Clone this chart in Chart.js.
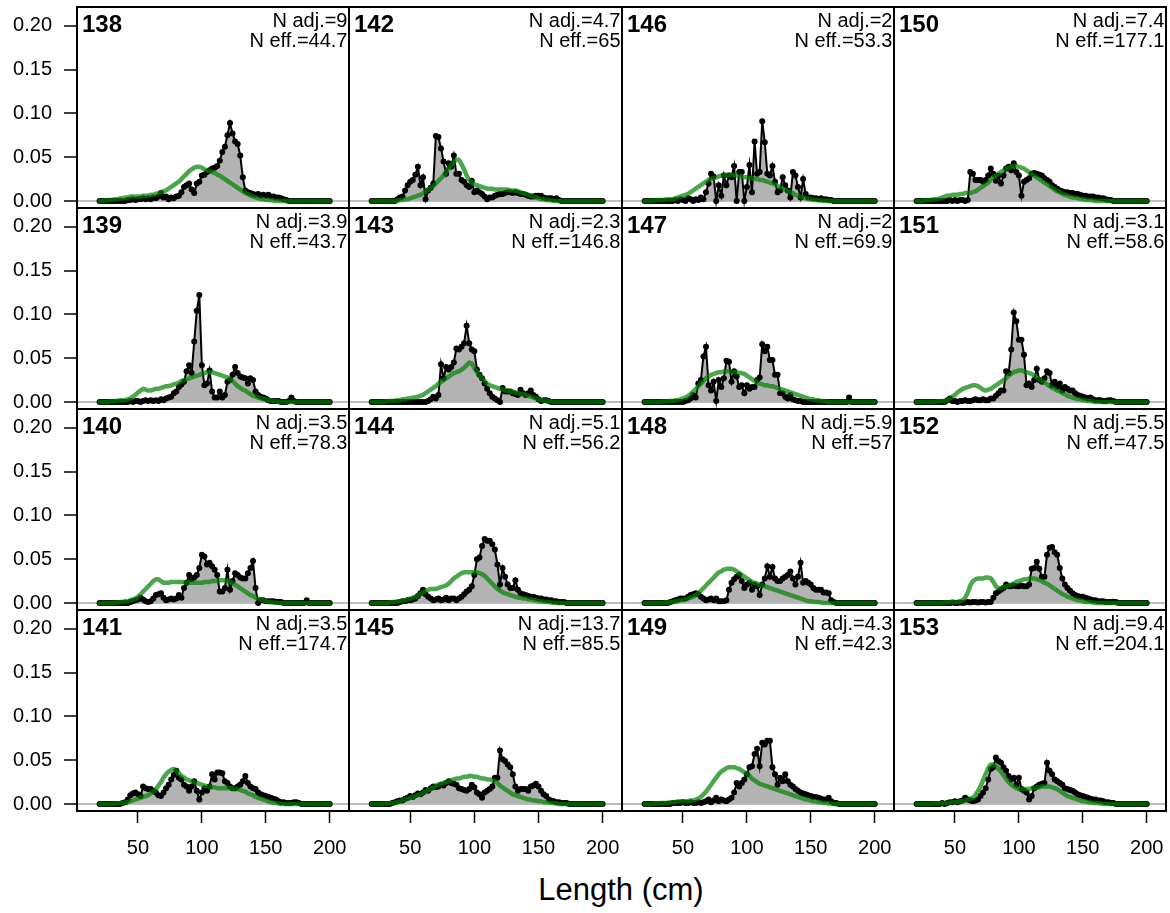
<!DOCTYPE html>
<html><head><meta charset="utf-8">
<script src="https://cdn.jsdelivr.net/npm/chart.js@4.4.1/dist/chart.umd.min.js"></script>
<style>
html,body{margin:0;padding:0;background:#fff;}
#wrap{position:relative;width:1170px;height:913px;overflow:hidden;font-family:"Liberation Sans",Arial,Helvetica,sans-serif;color:#000;}
#wrap canvas{position:absolute;}
.lab{position:absolute;font-weight:bold;font-size:24px;line-height:24px;white-space:nowrap;}
.nt{position:absolute;font-size:20px;line-height:20px;text-align:right;white-space:nowrap;}
#xt{position:absolute;left:421px;width:400px;top:874px;text-align:center;font-size:31px;line-height:31px;}
</style></head>
<body><div id="wrap"><div id="xt">Length (cm)</div></div>
<script>
const LENGTH_BINS = [20,22,24,26,28,30,32,34,36,38,
40,42,44,46,48,50,52,54,56,58,
60,62,64,66,68,70,72,74,76,78,
80,82,84,86,88,90,92,94,96,98,
100,102,104,106,108,110,112,114,116,118,
120,122,124,126,128,130,132,134,136,138,
140,142,144,146,148,150,152,154,156,158,
160,162,164,166,168,170,172,174,176,178,
180,182,184,186,188,190,192,194,196,198,
200];
const X_TICKS = [50,100,150,200];
const Y_TICKS = [0,0.05,0.10,0.15,0.20];
const PANEL_IDS = [138,139,140,141,142,143,144,145,146,147,148,149,150,151,152,153];
const N_ADJ = ["9","3.9","3.5","3.5","4.7","2.3","5.1","13.7","2","2","5.9","4.3","7.4","3.1","5.5","9.4"];
const N_EFF = ["44.7","43.7","78.3","174.7","65","146.8","56.2","85.5","53.3","69.9","57","42.3","177.1","58.6","47.5","204.1"];

const OBS_138 = [0,0,0,0,0,0,0,0,0,0,
0,.001,.001,.002,.001,.002,.002,.003,.002,.003,
.002,.004,.003,.005,.009,.004,.005,.002,.004,.003,
.005,.006,.010,.016,.018,.020,.013,.009,.020,.022,
.029,.030,.033,.035,.037,.038,.040,.046,.056,.062,
.075,.089,.077,.068,.065,.052,.027,.012,.010,.009,
.008,.007,.008,.006,.007,.006,.007,.005,.005,.004,
.004,.003,.002,.001,0,0,0,0,0,0,
0,0,0,0,0,0,0,0,0,0,
0];
const EXP_138 = [0,0,.0005,.001,.001,.0015,.002,.002,.003,.003,
.004,.004,.005,.005,.005,.005,.005,.006,.006,.006,
.007,.007,.008,.009,.010,.011,.012,.014,.016,.018,
.020,.022,.025,.028,.031,.034,.036,.038,.039,.039,
.038,.036,.035,.034,.033,.032,.030,.029,.027,.025,
.023,.021,.019,.017,.015,.013,.011,.009,.008,.006,
.005,.004,.003,.0025,.002,.0015,.001,.001,.0005,0,
0,0,0,0,0,0,0,0,0,0,
0,0,0,0,0,0,0,0,0,0,
0];
const OBS_139 = [0,0,0,0,0,0,0,0,0,0,
0,0,.001,0,.001,.001,0,.001,.002,.001,
.002,.001,.002,.001,.003,.002,.004,.005,.006,.010,
.012,.017,.020,.023,.035,.042,.033,.069,.104,.122,
.042,.019,.021,.036,.012,.005,.005,.012,.005,.008,
.023,.025,.031,.040,.033,.029,.028,.027,.021,.027,
.025,.012,.008,.006,.005,.004,.002,.001,.001,.001,
.001,0,0,0,.001,.005,.001,0,0,0,
0,0,0,0,0,0,0,0,0,0,
0];
const EXP_139 = [0,0,0,0,.0005,.001,.001,.0015,.002,.002,
.002,.003,.004,.006,.008,.011,.013,.015,.014,.013,
.013,.014,.015,.015,.016,.017,.018,.018,.019,.020,
.021,.022,.024,.025,.026,.027,.028,.029,.030,.031,
.032,.033,.034,.034,.034,.033,.032,.031,.030,.029,
.028,.026,.024,.021,.018,.016,.014,.013,.011,.009,
.007,.006,.005,.004,.003,.003,.002,.002,.001,.001,
.0005,0,0,0,0,0,0,0,0,0,
0,0,0,0,0,0,0,0,0,0,
0];
const OBS_140 = [0,0,0,0,0,0,0,0,0,0,
0,0,.001,.002,.003,.004,.006,.004,.002,.001,
.002,.005,.009,.010,.011,.006,.003,.004,.005,.004,
.005,.009,.006,.017,.023,.032,.027,.029,.032,.040,
.055,.053,.044,.046,.042,.038,.032,.013,.013,.017,
.038,.015,.025,.034,.032,.029,.028,.028,.034,.040,
.048,.017,0,.003,.003,.002,.002,.002,.002,.0015,
.001,.001,0,0,0,0,0,0,0,0,
0,.003,0,0,0,0,0,0,0,0,
0];
const EXP_140 = [0,0,0,0,0,0,.0005,.0005,.001,.001,
.002,.002,.003,.004,.005,.007,.010,.013,.016,.019,
.022,.025,.027,.027,.025,.023,.023,.023,.024,.024,
.024,.024,.024,.024,.023,.023,.023,.023,.023,.023,
.023,.024,.024,.024,.025,.025,.025,.026,.026,.026,
.025,.024,.023,.021,.019,.017,.015,.013,.011,.009,
.008,.006,.005,.004,.003,.002,.0015,.001,.0005,.0005,
0,0,0,0,0,0,0,0,0,0,
0,0,0,0,0,0,0,0,0,0,
0];
const OBS_141 = [0,0,0,0,0,0,0,0,0,.001,
.002,.005,.010,.012,.013,.011,.009,.020,.018,.017,
.017,.015,.013,.010,.009,.013,.018,.022,.028,.033,
.038,.030,.028,.022,.020,.015,.020,.026,.015,.005,
.013,.018,.015,.020,.034,.028,.036,.036,.035,.026,
.024,.020,.018,.018,.020,.022,.026,.032,.024,.020,
.018,.017,.013,.011,.010,.009,.008,.007,.006,.005,
.003,.002,.002,.001,.001,.001,.002,.002,.001,0,
0,0,0,0,0,0,0,0,0,0,
0];
const EXP_141 = [0,0,0,0,0,0,.0005,.0005,.001,.001,
.002,.002,.003,.004,.005,.006,.007,.008,.009,.010,
.012,.014,.017,.021,.025,.030,.034,.037,.039,.040,
.038,.035,.032,.030,.028,.027,.026,.025,.024,.023,
.022,.021,.020,.020,.019,.019,.018,.018,.018,.018,
.018,.018,.018,.017,.017,.016,.015,.014,.012,.011,
.010,.008,.007,.006,.005,.004,.003,.002,.0015,.001,
.0005,0,0,0,0,0,0,0,0,0,
0,0,0,0,0,0,0,0,0,0,
0];
const OBS_142 = [0,0,0,0,0,0,0,0,0,0,
.002,.004,.005,.012,.018,.022,.024,.030,.039,.018,
.027,.002,.012,.015,.020,.074,.073,.060,.045,.031,
.043,.039,.052,.031,.031,.024,.022,.018,.016,.023,
.010,.012,.010,.008,.005,.002,.004,.004,.006,.007,
.008,.008,.009,.010,.010,.009,.010,.009,.008,.008,
.007,.006,.005,.005,.006,.006,.006,.004,.003,.003,
.003,.002,.003,.001,0,0,0,0,0,0,
0,0,0,0,0,0,0,0,0,0,
0];
const EXP_142 = [0,0,0,0,0,0,0,0,0,0,
.0005,.001,.001,.002,.002,.003,.004,.005,.006,.007,
.009,.011,.013,.015,.017,.020,.023,.026,.029,.033,
.037,.041,.045,.047,.047,.042,.036,.029,.024,.021,
.019,.018,.017,.016,.015,.014,.014,.014,.013,.013,
.013,.013,.013,.013,.012,.012,.012,.011,.010,.009,
.008,.007,.006,.005,.004,.003,.002,.002,.001,.001,
.0005,0,0,0,0,0,0,0,0,0,
0,0,0,0,0,0,0,0,0,0,
0];
const OBS_143 = [0,0,0,0,0,0,0,0,0,0,
0,0,0,0,0,0,0,0,0,0,
0,0,.001,.003,.006,.004,.008,.043,.027,.040,
.037,.040,.045,.061,.060,.063,.067,.087,.067,.060,
.058,.037,.031,.027,.021,.015,.010,.006,.004,.002,
0,.016,.012,.012,.012,.010,.009,.008,.014,.010,
.008,.010,.013,.008,.006,.003,.001,.002,.002,.001,
0,0,0,0,0,0,0,0,0,0,
0,0,0,0,0,0,0,0,0,0,
0];
const EXP_143 = [0,0,0,0,0,.0005,.001,.001,.001,.0015,
.002,.002,.003,.003,.004,.004,.005,.005,.006,.007,
.008,.010,.012,.014,.016,.018,.021,.023,.025,.027,
.029,.031,.033,.034,.035,.037,.039,.042,.045,.044,
.039,.034,.030,.027,.024,.021,.019,.018,.017,.016,
.015,.014,.013,.013,.012,.012,.011,.010,.009,.009,
.008,.007,.006,.005,.004,.003,.002,.002,.001,.001,
.0005,0,0,0,0,0,0,0,0,0,
0,0,0,0,0,0,0,0,0,0,
0];
const OBS_144 = [0,0,0,0,0,0,0,0,0,0,
0,.001,.002,.002,.003,.003,.004,.005,.008,.011,
.015,.010,.007,.005,.003,.004,.005,.003,.004,.006,
.003,.005,.005,.003,.005,.007,.010,.013,.015,.019,
.032,.050,.052,.065,.073,.071,.071,.067,.061,.044,
.021,.040,.030,.021,.017,.017,.026,.015,.011,.010,
.009,.008,.007,.007,.006,.005,.005,.004,.004,.003,
.003,.002,.002,.001,.001,.001,0,0,0,0,
0,0,0,0,0,0,0,0,0,0,
0];
const EXP_144 = [0,0,0,0,0,0,0,.0005,.001,.001,
.002,.002,.003,.003,.004,.005,.006,.007,.008,.010,
.012,.014,.015,.016,.016,.016,.017,.018,.019,.020,
.022,.025,.028,.030,.032,.034,.035,.035,.035,.035,
.035,.035,.034,.033,.031,.028,.025,.022,.019,.016,
.014,.012,.011,.010,.009,.008,.007,.006,.006,.005,
.005,.004,.004,.003,.003,.002,.002,.0015,.001,.001,
.0005,0,0,0,0,0,0,0,0,0,
0,0,0,0,0,0,0,0,0,0,
0];
const OBS_145 = [0,0,0,0,0,0,0,0,.001,.002,
.003,.004,.004,.006,.007,.009,.008,.010,.012,.011,
.013,.016,.015,.018,.020,.019,.020,.022,.021,.024,
.026,.024,.023,.022,.018,.017,.016,.015,.017,.022,
.019,.013,.011,.007,.013,.015,.017,.020,.030,.030,
.061,.051,.049,.045,.042,.034,.020,.015,.017,.017,
.017,.015,.020,.021,.023,.020,.015,.011,.009,.005,
.004,.003,.002,.002,.001,.001,.001,0,0,0,
0,0,0,0,0,0,0,0,0,0,
0];
const EXP_145 = [0,0,0,0,0,.0005,.0005,.001,.001,.0015,
.002,.003,.004,.005,.006,.007,.008,.009,.010,.011,
.013,.014,.016,.017,.019,.021,.022,.023,.024,.025,
.026,.027,.028,.029,.029,.030,.031,.031,.032,.032,
.031,.031,.030,.029,.029,.028,.028,.027,.026,.024,
.021,.019,.017,.015,.013,.011,.010,.009,.008,.007,
.006,.005,.005,.004,.004,.003,.003,.002,.002,.0015,
.001,.001,.0005,0,0,0,0,0,0,0,
0,0,0,0,0,0,0,0,0,0,
0];
const OBS_146 = [0,0,0,0,0,0,0,0,0,0,
0,0,.001,0,.002,.001,0,.003,.002,0,
.002,.001,.004,.002,.010,.020,.031,.028,0,.018,
.006,.029,.018,.029,.027,.040,0,.033,.033,0,
.016,.041,.010,.068,.031,.033,.091,.067,.031,.029,
.040,.022,.010,.012,.027,.018,.012,.004,.033,.029,
.016,.004,.025,.008,.004,.004,.003,.003,.002,.003,
.002,.002,.001,.001,0,0,0,0,0,0,
0,0,0,0,0,0,0,0,0,0,
0];
const EXP_146 = [0,0,0,.0005,.0005,.001,.001,.001,.0015,.002,
.002,.002,.003,.004,.005,.006,.007,.008,.010,.012,
.014,.016,.018,.020,.022,.024,.025,.026,.027,.028,
.029,.029,.030,.030,.030,.029,.029,.028,.028,.027,
.027,.026,.026,.025,.025,.024,.024,.023,.022,.021,
.020,.019,.017,.016,.014,.013,.011,.010,.009,.007,
.006,.005,.004,.003,.0025,.002,.0015,.001,.001,.0005,
0,0,0,0,0,0,0,0,0,0,
0,0,0,0,0,0,0,0,0,0,
0];
const OBS_147 = [0,0,0,0,0,0,0,0,0,0,
0,0,0,0,0,0,.001,.002,.004,.008,
.005,.021,.025,.052,.063,.019,.013,.023,.001,.025,
.017,.027,.047,.046,.023,.035,.029,.017,.019,.010,
.019,.015,.017,.017,.025,.028,.066,.058,.063,.048,
.048,.031,.031,.010,.010,.006,.004,.008,.003,.002,
.001,.001,0,0,0,0,0,0,0,0,
0,0,0,0,0,0,0,0,0,0,
.005,0,0,0,0,0,0,0,0,0,
0];
const EXP_147 = [0,0,0,0,0,0,0,.0005,.0005,.001,
.001,.001,.002,.002,.003,.004,.005,.007,.009,.012,
.015,.018,.021,.024,.027,.029,.031,.032,.033,.034,
.034,.035,.035,.035,.035,.034,.034,.033,.033,.032,
.030,.028,.026,.024,.022,.021,.020,.019,.019,.018,
.018,.017,.016,.015,.014,.013,.012,.011,.010,.009,
.008,.007,.006,.005,.004,.003,.003,.002,.002,.001,
.001,.0005,0,0,0,0,0,0,0,0,
0,0,0,0,0,0,0,0,0,0,
0];
const OBS_148 = [0,0,0,0,0,0,0,0,0,0,
.001,.002,.003,.004,.005,.005,.005,.007,.009,.010,
.011,.010,.007,.005,.003,.004,.005,.003,.005,.002,
.002,.002,.003,.015,.023,.027,.030,.032,.025,.017,
.021,.023,.015,.021,.019,.009,.021,.028,.042,.030,
.041,.028,.025,.025,.028,.030,.032,.036,.028,.021,
.030,.046,.023,.025,.023,.021,.017,.015,.015,.015,
.012,.012,.011,.003,.001,0,0,0,0,0,
0,0,0,0,0,0,0,0,0,0,
0];
const EXP_148 = [0,0,0,0,0,0,0,0,.0005,.0005,
.001,.001,.002,.002,.003,.003,.004,.005,.006,.007,
.009,.011,.014,.017,.020,.023,.026,.029,.032,.035,
.036,.038,.039,.039,.039,.038,.036,.034,.032,.030,
.028,.026,.024,.023,.022,.021,.020,.019,.018,.017,
.016,.015,.014,.013,.012,.011,.010,.009,.008,.007,
.006,.005,.004,.003,.002,.002,.0015,.001,.001,.0005,
0,0,0,0,0,0,0,0,0,0,
0,0,0,0,0,0,0,0,0,0,
0];
const OBS_149 = [0,0,0,0,0,0,0,0,0,0,
0,.001,.001,.001,.001,.002,.001,.001,.002,.001,
.001,.002,.001,.002,.003,.005,.002,.004,.007,.003,
.005,.004,.003,.005,.007,.013,.024,.020,.024,.028,
.034,.042,.043,.057,.063,.043,.070,.068,.072,.072,
.042,.034,.022,.030,.026,.034,.026,.022,.020,.017,
.015,.013,.012,.011,.010,.009,.008,.008,.007,.006,
.005,.005,.007,.003,.001,.001,0,0,0,0,
0,0,0,0,0,0,0,0,0,0,
0];
const EXP_149 = [0,0,0,0,.0005,.0005,.001,.001,.001,.0015,
.002,.002,.002,.003,.003,.003,.003,.003,.004,.004,
.005,.006,.008,.011,.014,.018,.022,.026,.030,.034,
.037,.039,.041,.042,.042,.042,.041,.040,.038,.036,
.035,.032,.029,.027,.025,.023,.022,.021,.020,.019,
.018,.017,.016,.015,.014,.013,.012,.011,.010,.009,
.008,.007,.006,.005,.005,.004,.003,.003,.002,.002,
.001,.001,.0005,.0005,0,0,0,0,0,0,
0,0,0,0,0,0,0,0,0,0,
0];
const OBS_150 = [0,0,0,0,0,0,0,0,0,0,
0,0,0,.001,0,.001,0,.001,.001,0,
.001,.033,.031,.024,.024,.024,.022,.024,.029,.037,
.031,.023,.029,.020,.029,.037,.039,.035,.043,.033,
.029,.006,.022,.024,.026,.031,.032,.031,.030,.029,
.026,.024,.022,.018,.016,.014,.012,.011,.010,.010,
.009,.009,.008,.008,.007,.006,.006,.005,.005,.005,
.004,.004,.003,.003,.002,.001,.001,0,0,0,
0,0,0,0,0,0,0,0,0,0,
0];
const EXP_150 = [0,0,0,.0005,.001,.001,.0015,.002,.002,.003,
.004,.005,.006,.006,.007,.007,.007,.008,.008,.009,
.009,.009,.010,.011,.013,.015,.017,.019,.021,.024,
.027,.029,.031,.033,.035,.037,.038,.039,.040,.040,
.039,.038,.037,.035,.033,.031,.029,.027,.025,.023,
.021,.019,.017,.015,.013,.011,.010,.008,.007,.006,
.005,.004,.004,.003,.0025,.002,.0015,.001,.001,.0005,
0,0,0,0,0,0,0,0,0,0,
0,0,0,0,0,0,0,0,0,0,
0];
const OBS_151 = [0,0,0,0,0,0,0,0,0,0,
0,0,.002,.004,.001,.001,0,.001,.001,.002,
.001,.001,.002,.003,.002,.002,.003,.002,.002,.004,
.004,.007,.010,.013,.013,.035,.033,.060,.102,.092,
.071,.071,.054,.019,.021,.017,.025,.038,.025,.023,
.027,.035,.033,.019,.023,.017,.021,.013,.017,.015,
.013,.013,.010,.008,.007,.006,.005,.004,.005,.003,
.002,.002,.002,.001,.001,.002,.002,.001,0,0,
0,0,0,0,0,0,0,0,0,0,
0];
const EXP_151 = [0,0,0,0,0,0,0,0,.0005,.0005,
.001,.001,.002,.004,.006,.008,.011,.013,.015,.016,
.017,.018,.019,.019,.018,.016,.014,.013,.014,.015,
.017,.019,.021,.023,.025,.027,.030,.032,.034,.035,
.036,.036,.035,.034,.033,.032,.030,.028,.026,.024,
.022,.020,.018,.016,.015,.013,.012,.010,.009,.007,
.006,.005,.004,.003,.003,.002,.002,.001,.001,.0005,
0,0,0,0,0,0,0,0,0,0,
0,0,0,0,0,0,0,0,0,0,
0];
const OBS_152 = [0,0,0,0,0,0,0,0,0,0,
0,0,0,0,.0005,0,0,.0005,0,.0005,
.001,.0005,.001,.001,.0005,.001,.001,.0005,.001,.001,
.006,.011,.013,.015,.017,.021,.019,.019,.020,.019,
.019,.020,.019,.019,.021,.039,.040,.047,.039,.030,
.030,.055,.063,.064,.058,.055,.040,.028,.021,.017,
.014,.011,.009,.008,.007,.007,.006,.005,.004,.003,
.003,.002,.002,.002,.001,.001,.001,.0015,.001,0,
0,0,0,0,0,0,0,0,0,0,
0];
const EXP_152 = [0,0,0,0,0,0,0,0,0,0,
0,.0005,.0005,.001,.001,.001,.001,.002,.003,.006,
.012,.020,.025,.027,.028,.028,.028,.029,.029,.028,
.024,.019,.017,.017,.018,.019,.020,.021,.022,.024,
.025,.026,.027,.027,.028,.028,.028,.027,.026,.025,
.023,.022,.020,.018,.016,.014,.012,.010,.009,.007,
.006,.005,.004,.003,.003,.002,.0015,.001,.001,.0005,
0,0,0,0,0,0,0,0,0,0,
0,0,0,0,0,0,0,0,0,0,
0];
const OBS_153 = [0,0,0,0,0,0,0,0,0,0,
.001,0,.001,.002,.002,.003,.002,.003,.004,.007,
.005,.004,.003,.004,.005,.009,.013,.018,.028,.040,
.042,.053,.049,.047,.042,.038,.032,.028,.030,.022,
.030,.017,.015,.013,.005,.009,.018,.020,.022,.023,
.024,.047,.038,.034,.028,.026,.024,.022,.018,.017,
.016,.015,.013,.011,.010,.009,.008,.007,.006,.005,
.005,.004,.004,.003,.002,.002,.001,.001,0,0,
0,0,0,0,0,0,0,0,0,0,
0];
const EXP_153 = [0,0,0,0,0,0,.0005,.0005,.0005,.001,
.001,.001,.001,.0015,.002,.002,.002,.003,.003,.004,
.005,.006,.007,.010,.015,.020,.027,.034,.041,.045,
.045,.043,.040,.037,.033,.029,.025,.022,.020,.018,
.017,.017,.017,.017,.017,.018,.018,.019,.019,.020,
.020,.020,.020,.019,.018,.017,.015,.013,.011,.009,
.008,.007,.006,.005,.004,.003,.003,.002,.002,.0015,
.001,.001,.0005,0,0,0,0,0,0,0,
0,0,0,0,0,0,0,0,0,0,
0];

const OBS_SERIES = [OBS_138,OBS_139,OBS_140,OBS_141,OBS_142,OBS_143,OBS_144,OBS_145,
  OBS_146,OBS_147,OBS_148,OBS_149,OBS_150,OBS_151,OBS_152,OBS_153];
const EXP_SERIES = [EXP_138,EXP_139,EXP_140,EXP_141,EXP_142,EXP_143,EXP_144,EXP_145,
  EXP_146,EXP_147,EXP_148,EXP_149,EXP_150,EXP_151,EXP_152,EXP_153];

// layout (pixels) and axis ranges
const COL_EDGES = [77,349,622,894,1166];
const ROW_EDGES = [7,208,409,610,811];
const X_MIN = 2.3, X_MAX = 215.1;
const Y_MIN = -0.008, Y_MAX = 0.2213;
const PAGE_H = 913;

Chart.defaults.font.family = '"Liberation Sans", Arial, Helvetica, sans-serif';
Chart.defaults.color = '#000';

const boxPlugin = {
  id: 'panelBox',
  afterDatasetsDraw(chart) {
    const a = chart.chartArea, ctx = chart.ctx;
    ctx.save();
    ctx.strokeStyle = '#000';
    ctx.lineWidth = 2;
    ctx.strokeRect(a.left, a.top, a.right - a.left, a.bottom - a.top);
    ctx.restore();
  }
};

function zeroPad(s) {
  s.paddingTop = 0; s.paddingBottom = 0; s.paddingLeft = 0; s.paddingRight = 0;
}

const wrap = document.getElementById('wrap');

function toPoints(arr) {
  return LENGTH_BINS.map((x, i) => ({x: x, y: arr[i]}));
}

PANEL_IDS.forEach((id, k) => {
  const c = Math.floor(k / 4), r = k % 4;
  const x0 = COL_EDGES[c], x1 = COL_EDGES[c + 1];
  const y0 = ROW_EDGES[r], y1 = ROW_EDGES[r + 1];
  const isLeft = c === 0, isBottom = r === 3;
  const cl = isLeft ? 0 : x0 - 2;
  const ct = y0 - 2;
  const cr = x1 + 2;
  const cb = isBottom ? PAGE_H : y1 + 2;

  const cv = document.createElement('canvas');
  cv.width = cr - cl; cv.height = cb - ct;
  cv.style.left = cl + 'px'; cv.style.top = ct + 'px';
  cv.style.width = (cr - cl) + 'px'; cv.style.height = (cb - ct) + 'px';
  wrap.appendChild(cv);

  new Chart(cv, {
    type: 'line',
    data: {
      datasets: [
        {
          label: 'Expected',
          data: toPoints(EXP_SERIES[k]),
          borderColor: 'rgba(0,128,0,0.7)',
          borderWidth: 4.5,
          borderCapStyle: 'round',
          borderJoinStyle: 'round',
          pointRadius: 0,
          fill: false,
          tension: 0,
          order: 0
        },
        {
          label: 'Observed',
          data: toPoints(OBS_SERIES[k]),
          borderColor: '#000',
          borderWidth: 2,
          pointRadius: 3,
          pointBackgroundColor: '#000',
          pointBorderWidth: 0,
          fill: 'origin',
          backgroundColor: '#b3b3b3',
          tension: 0,
          order: 1
        }
      ]
    },
    options: {
      responsive: false,
      animation: false,
      events: [],
      layout: {
        autoPadding: false,
        padding: {left: isLeft ? 0 : 2, right: 2, top: 2, bottom: isBottom ? 0 : 2}
      },
      plugins: {legend: {display: false}, tooltip: {enabled: false}},
      scales: {
        x: {
          type: 'linear',
          min: X_MIN, max: X_MAX,
          display: isBottom,
          afterBuildTicks: s => { s.ticks = X_TICKS.map(v => ({value: v})); },
          afterFit: s => { s.height = isBottom ? PAGE_H - y1 : 0; zeroPad(s); },
          border: {display: false},
          grid: {drawOnChartArea: false, drawTicks: true, tickLength: 12, tickColor: '#000', tickWidth: 1.5},
          ticks: {font: {size: 20}, color: '#000', padding: 13, maxRotation: 0, autoSkip: false,
                  callback: v => String(v)}
        },
        y: {
          type: 'linear',
          min: Y_MIN, max: Y_MAX,
          afterBuildTicks: s => { s.ticks = Y_TICKS.map(v => ({value: v})); },
          afterFit: s => { s.width = isLeft ? x0 : 0; zeroPad(s); },
          border: {display: false},
          grid: {
            drawOnChartArea: true,
            color: ctx => (ctx.tick && Math.abs(ctx.tick.value) < 1e-9) ? '#bebebe' : 'rgba(0,0,0,0)',
            lineWidth: 2,
            drawTicks: isLeft, tickLength: 13, tickColor: '#000', tickWidth: 1.5
          },
          ticks: {display: isLeft, font: {size: 20}, color: '#000', padding: 12,
                  callback: v => Number(v).toFixed(2)}
        }
      }
    },
    plugins: [boxPlugin]
  });

  const lab = document.createElement('div');
  lab.className = 'lab';
  lab.textContent = String(id);
  lab.style.left = (x0 + 5) + 'px';
  lab.style.top = (y0 + 5) + 'px';
  wrap.appendChild(lab);

  const nt = document.createElement('div');
  nt.className = 'nt';
  nt.style.left = (x1 - 300) + 'px';
  nt.style.width = '298.5px';
  nt.style.top = (y0 + 3) + 'px';
  nt.innerHTML = 'N adj.=' + N_ADJ[k] + '<br>N eff.=' + N_EFF[k];
  wrap.appendChild(nt);
});
</script>
</body></html>
